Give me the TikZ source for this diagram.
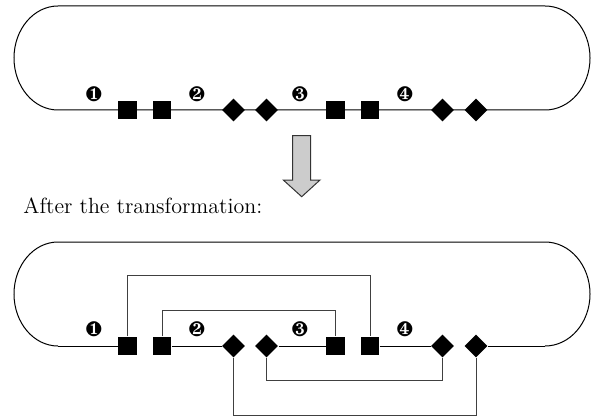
\documentclass[tikz,border=0pt]{standalone}
\usepackage{pifont}
\usetikzlibrary{shapes.geometric}
\tikzset{
  outline/.style={draw=black, line width=0.5pt},
  conn/.style={draw=black!75, line width=0.5pt},
  sq/.style={rectangle, fill=black, draw=none, minimum size=9.2pt, inner sep=0pt},
  dm/.style={diamond, fill=black, draw=none, minimum width=11.6pt, minimum height=11.6pt, inner sep=0pt},
  num/.style={inner sep=0pt, font=\fontsize{10.5}{11}\selectfont},
  bigarrow/.style={draw=black!80, line width=0.5pt, fill=black!20},
}
\begin{document}
\begin{tikzpicture}[x=0.5pt, y=0.5pt]
\useasboundingbox (0,0) rectangle (592,418);

% ---------- top loop ----------
\draw[outline] (58,308) -- (545,308)
  arc[start angle=-90, end angle=90, x radius=22.5pt, y radius=26pt]
  -- (58,412)
  arc[start angle=90, end angle=270, x radius=22pt, y radius=26pt] -- cycle;

\node[sq] (ts1) at (127.5,308) {};
\node[sq] (ts2) at (162,308) {};
\node[dm] (td1) at (233.5,308) {};
\node[dm] (td2) at (266.5,308) {};
\node[sq] (ts3) at (335.5,308) {};
\node[sq] (ts4) at (370,308) {};
\node[dm] (td3) at (442.5,308) {};
\node[dm] (td4) at (476,308) {};

\node[num] (tn1) at (94,324) {\ding{182}};
\node[num] (tn2) at (197,324) {\ding{183}};
\node[num] (tn3) at (300,324) {\ding{184}};
\node[num] (tn4) at (405,324) {\ding{185}};

% ---------- arrow ----------
\draw[bigarrow] (292.7,282.3) -- (310.7,282.3) -- (310.7,238) -- (320,238)
  -- (301.7,221.3) -- (283.3,238) -- (292.7,238) -- cycle;

\node[anchor=base west, inner sep=0pt, font=\fontsize{11}{13}\selectfont] (after) at (23,205) {After the transformation:};

% ---------- bottom loop ----------
\coordinate (bl) at (58,72);
\coordinate (br) at (545,72);
\draw[outline] (br)
  arc[start angle=-90, end angle=90, x radius=22.5pt, y radius=26pt]
  -- (58,176)
  arc[start angle=90, end angle=270, x radius=22pt, y radius=26pt];

\node[sq] (bs1) at (127.5,72) {};
\node[sq] (bs2) at (162,72) {};
\node[dm] (bd1) at (233.5,72) {};
\node[dm] (bd2) at (266.5,72) {};
\node[sq] (bs3) at (335.5,72) {};
\node[sq] (bs4) at (370,72) {};
\node[dm] (bd3) at (442.5,72) {};
\node[dm] (bd4) at (476,72) {};

\node[num] (bn1) at (94,89) {\ding{182}};
\node[num] (bn2) at (197,89) {\ding{183}};
\node[num] (bn3) at (300,89) {\ding{184}};
\node[num] (bn4) at (405,89) {\ding{185}};

\draw[outline] (bl) -- (bs1.west);
\draw[outline] (bs2.east) -- (bd1.west);
\draw[outline] (bd2.east) -- (bs3.west);
\draw[outline] (bs4.east) -- (bd3.west);
\draw[outline] (bd4.east) -- (br);

\draw[conn] (bs1.north) -- ++(0,61.2) -| (bs4.north);
\draw[conn] (bs2.north) -- ++(0,25.9) -| (bs3.north);
\draw[conn] (bd2.south) -- ++(0,-22.5) -| (bd3.south);
\draw[conn] (bd1.south) -- ++(0,-57.5) -| (bd4.south);
\end{tikzpicture}
\end{document}
